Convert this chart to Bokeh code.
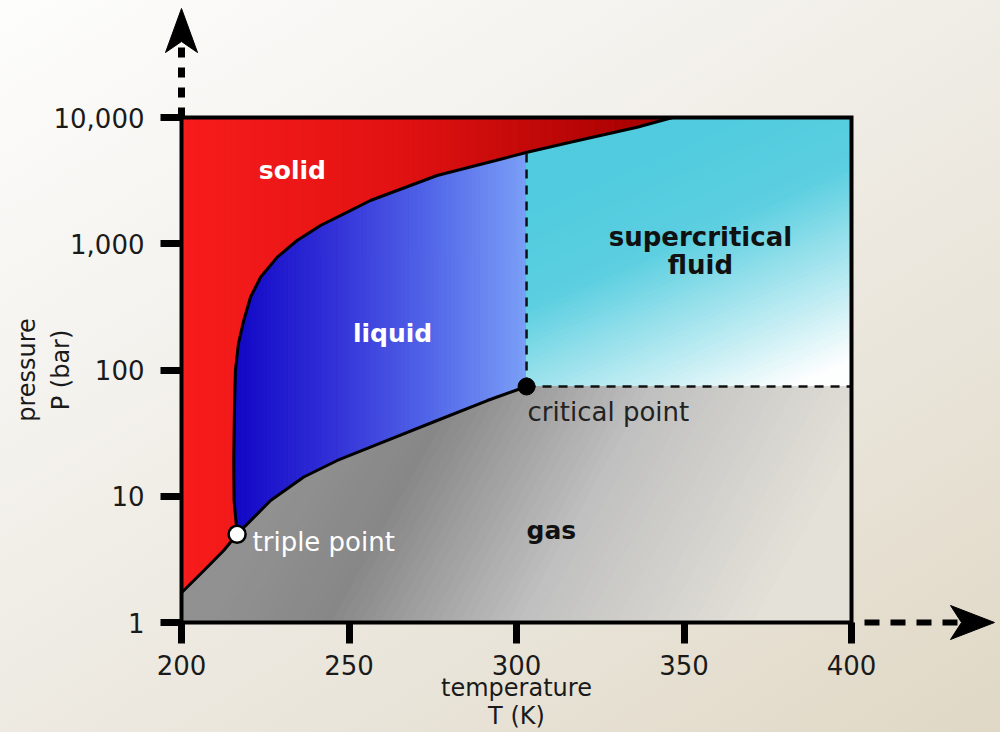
import numpy as np
from bokeh.plotting import figure
from bokeh.models import FixedTicker, Label
from bokeh.embed import file_html
from bokeh.resources import INLINE

# ---------------- data ----------------
x_ticks = [200, 250, 300, 350, 400]
y_ticks = [1, 10, 100, 1000, 10000]
y_tick_labels = ["1", "10", "100", "1,000", "10,000"]

triple_T, triple_P = 216.6, 5.0
crit_T, crit_P = 303.0, 74.0

# solid-gas (sublimation) curve
sub_T = [200.0, 206.7, 212.6, 216.6]
sub_P = [1.72, 2.58, 3.72, 5.0]

# liquid-gas (vaporisation) curve
vap_T = [216.6, 221.6, 226.6, 236.5, 246.5, 256.4, 276.3, 291.3, 303.0]
vap_P = [5.0, 6.8, 9.25, 14.2, 19.2, 24.5, 39.8, 57.3, 74.0]

# solid-liquid (melting) curve
melt_T = [216.6, 215.7, 215.6, 215.8, 216.1, 217.0, 218.6, 220.6, 223.6, 228.6,
          234.5, 241.5, 249.5, 256.4, 276.3, 296.1, 303.2, 316.1, 336.0, 346.6]
melt_P = [5.0, 9.25, 19.2, 47.8, 99.1, 162, 247, 377, 543, 783,
          1061, 1395, 1778, 2201, 3473, 4733, 5311, 6373, 8379, 10000]

T_MIN, T_MAX = 200, 400
P_MIN, P_MAX = 1, 10000

# ---------------- layout constants ----------------
W, H = 1000, 732
LEFT, RIGHT, TOP, BOTTOM = 181, 851, 117, 622       # plot box in the page
SX = (RIGHT - LEFT) / (T_MAX - T_MIN)                # px per kelvin
SY = (BOTTOM - TOP) / 4.0                            # px per decade

# the frame spans the whole canvas; the axes sit at fixed locations
x_lo = T_MIN - LEFT / SX
x_hi = T_MAX + (W - RIGHT) / SX
y_lo = 10 ** (-(H - BOTTOM) / SY)
y_hi = 10 ** (4 + TOP / SY)


def px_T(x):
    return T_MIN + (x - LEFT) / SX


def px_P(y):
    return 10 ** (4 - (y - TOP) / SY)


# ---------------- gradient helpers ----------------
def to_s(T, lp):
    return ((T - T_MIN) * SX, (4 - lp) * SY)


def from_s(X, Y):
    return (T_MIN + X / SX, 10 ** (4 - Y / SY))


def clip(poly, a, b, c):
    out = []
    n = len(poly)
    for i in range(n):
        P = poly[i]
        Q = poly[(i + 1) % n]
        fp = a * P[0] + b * P[1] - c
        fq = a * Q[0] + b * Q[1] - c
        if fp >= 0:
            out.append(P)
        if (fp >= 0) != (fq >= 0):
            s = fp / (fp - fq)
            out.append((P[0] + s * (Q[0] - P[0]), P[1] + s * (Q[1] - P[1])))
    return out


def ramp(stops, t):
    t = min(max(t, stops[0][0]), stops[-1][0])
    for (t0, c0), (t1, c1) in zip(stops[:-1], stops[1:]):
        if t0 <= t <= t1:
            f = 0 if t1 == t0 else (t - t0) / (t1 - t0)
            c = [int(round(c0[k] + f * (c1[k] - c0[k]))) for k in range(3)]
            return "#%02x%02x%02x" % tuple(c)
    return "#%02x%02x%02x" % tuple(stops[-1][1])


def gradient_strips(poly_data, p0, p1, stops, n=70):
    poly = [to_s(T, lp) for T, lp in poly_data]
    A = np.array(to_s(*p0))
    B = np.array(to_s(*p1))
    d = B - A
    L2 = float(d @ d)
    ts = [float((np.array(q) - A) @ d) / L2 for q in poly]
    tmin, tmax = min(ts), max(ts)
    xs, ys, cols = [], [], []
    edges = np.linspace(tmin, tmax, n + 1)
    for t0, t1 in zip(edges[:-1], edges[1:]):
        c0 = t0 * L2 + A @ d
        c1 = t1 * L2 + A @ d
        piece = clip(poly, d[0], d[1], c0)
        piece = clip(piece, -d[0], -d[1], -c1)
        if len(piece) < 3:
            continue
        pts = [from_s(X, Y) for X, Y in piece]
        xs.append([q[0] for q in pts])
        ys.append([q[1] for q in pts])
        cols.append(ramp(stops, 0.5 * (t0 + t1)))
    return xs, ys, cols


lg = np.log10
sub = list(zip(sub_T, lg(sub_P)))
vap = list(zip(vap_T, lg(vap_P)))
melt = list(zip(melt_T, lg(melt_P)))
lpc = float(lg(crit_P))

# melting-curve pressure at the critical temperature
k = max(i for i in range(len(melt) - 1) if melt[i][0] <= crit_T <= melt[i + 1][0])
f = (crit_T - melt[k][0]) / (melt[k + 1][0] - melt[k][0])
lpm = melt[k][1] + f * (melt[k + 1][1] - melt[k][1])

solid_poly = [(T_MIN, 4.0)] + sub + melt[1:]
liquid_poly = melt[:k + 1] + [(crit_T, lpm)] + vap[::-1]
super_poly = [(crit_T, lpc), (T_MAX, lpc), (T_MAX, 4.0)] + melt[:k:-1] + [(crit_T, lpm)]
gas_poly = [(T_MIN, 0.0), (T_MAX, 0.0), (T_MAX, lpc)] + vap[::-1] + sub[::-1][1:]

# ---------------- figure ----------------
p = figure(width=W, height=H, x_range=(x_lo, x_hi), y_range=(y_lo, y_hi),
           y_axis_type="log", output_backend="svg", toolbar_location=None,
           min_border=0, min_border_left=0, min_border_right=0,
           min_border_top=0, min_border_bottom=0)
p.styles = {"background": "linear-gradient(148deg, #fdfdfc 0%, #f3f1ec 35%, #e9e4d9 70%, #e0d8c5 100%)"}
p.border_fill_color = None
p.background_fill_color = None
p.outline_line_color = None
p.grid.visible = False

regions = [
    (solid_poly, (200, 3), (343, 3),
     [(0, (248, 28, 28)), (0.45, (226, 18, 18)), (1, (165, 0, 0))]),
    (liquid_poly, (216.4, 2), (302.7, 2),
     [(0, (18, 8, 198)), (0.33, (50, 48, 215)), (0.67, (82, 102, 232)), (1, (122, 158, 246))]),
    (super_poly, (340, 3.739), (372.8, 1.758),
     [(0, (80, 203, 223)), (0.35, (92, 207, 224)), (1, (253, 254, 254))]),
    (gas_poly, (259.4, 1.322), (349.0, 0.0),
     [(-0.2, (145, 145, 145)), (0.1, (135, 135, 135)), (0.6, (192, 192, 192)),
      (1.2, (228, 225, 216))]),
]
for poly, g0, g1, stops in regions:
    xs, ys, cols = gradient_strips(poly, g0, g1, stops)
    p.patches(xs, ys, fill_color=cols, line_color=cols, line_width=1.2)

# phase boundaries
p.line(sub_T + vap_T[1:], sub_P + vap_P[1:], line_color="black", line_width=3)
p.line(melt_T, melt_P, line_color="black", line_width=3)
p.line([crit_T, crit_T], [crit_P, 10 ** lpm], line_color="#111111", line_width=2.5, line_dash="9 7")
p.line([crit_T, T_MAX], [crit_P, crit_P], line_color="#111111", line_width=2.5, line_dash="9 7")

# plot box
p.line([T_MIN, T_MAX, T_MAX, T_MIN, T_MIN], [P_MIN, P_MIN, P_MAX, P_MAX, P_MIN],
       line_color="black", line_width=4, line_join="miter")

p.scatter([triple_T], [triple_P], size=17, fill_color="white", line_color="black", line_width=2.5)
p.scatter([crit_T], [crit_P], size=17, fill_color="black", line_color="black")

# dashed axis arrows (shaft + notched head)
p.line([T_MIN, T_MIN], [P_MAX, px_P(42)], line_color="black", line_width=7, line_dash="10 10")
p.patch([T_MIN, px_T(LEFT + 16), T_MIN, px_T(LEFT - 16)],
        [px_P(8), px_P(52), px_P(41), px_P(52)], fill_color="black", line_color="black")
p.line([px_T(RIGHT + 13), px_T(962)], [P_MIN, P_MIN], line_color="black", line_width=6,
       line_dash="15 11")
p.patch([px_T(994), px_T(950), px_T(961), px_T(950)],
        [P_MIN, px_P(BOTTOM - 17), P_MIN, px_P(BOTTOM + 17)], fill_color="black", line_color="black")

# axes at fixed locations
p.xaxis.fixed_location = P_MIN
p.yaxis.fixed_location = T_MIN
p.xaxis.bounds = (T_MIN, T_MAX)
p.yaxis.bounds = (P_MIN, P_MAX)
for ax in (p.xaxis[0], p.yaxis[0]):
    ax.axis_line_color = None
    ax.major_tick_line_width = 7
    ax.major_tick_line_color = "black"
    ax.major_tick_in = 0
    ax.major_tick_out = 21
    ax.minor_tick_line_color = None
    ax.major_label_text_font = "DejaVu Sans"
    ax.major_label_text_font_size = "26px"
    ax.major_label_text_color = "#1a1a1a"
    ax.axis_label_text_font = "DejaVu Sans"
    ax.axis_label_text_font_style = "normal"
    ax.axis_label_text_font_size = "24px"
    ax.axis_label_text_color = "#1a1a1a"

p.xaxis.ticker = FixedTicker(ticks=x_ticks)
p.yaxis.ticker = FixedTicker(ticks=y_ticks)
p.yaxis.major_label_overrides = dict(zip(y_ticks, y_tick_labels))
p.xaxis.axis_label = "temperature\nT (K)"
p.yaxis.axis_label = "pressure\nP (bar)"
p.xaxis.axis_label_text_line_height = 1.0
p.xaxis.major_label_standoff = 11
p.xaxis.axis_label_standoff = -4
p.yaxis.major_label_standoff = 16
p.yaxis.axis_label_standoff = -24

# region and point labels
def lab(x, y, text, color, bold=True, align="center", size="26px"):
    p.add_layout(Label(x=x, y=y, text=text, text_align=align, text_baseline="middle",
                       text_font="DejaVu Sans", text_font_size=size,
                       text_font_style="bold" if bold else "normal", text_color=color))

lab(233.1, 3800, "solid", "white", size="25px")
lab(263.0, 194, "liquid", "white", size="25px")
lab(354.9, 1121, "supercritical", "#111111")
lab(354.9, 673, "fluid", "#111111")
lab(310.4, 5.35, "gas", "#111111", size="25px")
lab(303.3, 46.9, "critical point", "#222222", bold=False, align="left")
lab(221.2, 4.38, "triple point", "white", bold=False, align="left")

open("out.html", "w").write(file_html(p, INLINE))
